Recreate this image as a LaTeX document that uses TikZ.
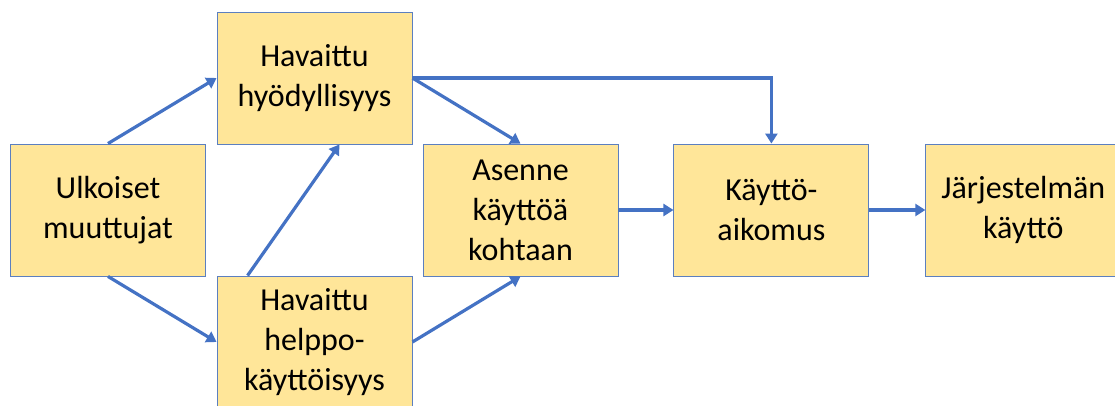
\documentclass[tikz,border=0pt]{standalone}
\usepackage{fontspec}
\setmainfont{Carlito}
\usetikzlibrary{arrows.meta, positioning}

\definecolor{boxfill}{HTML}{FFE699}
\definecolor{boxline}{HTML}{5B7FC0}
\definecolor{arrowblue}{HTML}{4472C4}

\begin{document}
\begin{tikzpicture}[
    x=1pt, y=-1pt,
    box/.style={rectangle, draw=boxline, line width=0.9pt, fill=boxfill, align=center,
        minimum width=195pt, minimum height=132pt, inner sep=0pt,
        font=\fontsize{32}{40}\selectfont},
    arrow/.style={-{Triangle[length=10pt, width=12pt]}, line width=3.2pt, draw=arrowblue}
]
\useasboundingbox (0,0) rectangle (1115,406);

% Nodes
\node[box] (ulk) at (108,210) {Ulkoiset\\muuttujat};
\node[box] (hyod) at (314.5,78) {Havaittu\\hyödyllisyys};
\node[box] (helppo) at (314.5,342) {Havaittu\\helppo-\\käyttöisyys};
\node[box] (asenne) at (520.5,210) {Asenne\\käyttöä\\kohtaan};
\node[box, right=55pt of asenne] (aikomus) {Käyttö-\\aikomus};
\node[box, right=56pt of aikomus] (kaytto) {Järjestelmän\\käyttö};

% Arrows
\draw[arrow] (ulk.north) -- (hyod.west);
\draw[arrow] (ulk.south) -- (helppo.west);
\draw[arrow] ([xshift=31pt]helppo.north west) -- ([xshift=25pt]hyod.south);
\draw[arrow] (hyod.east) -- (asenne.north);
\draw[arrow] (hyod.east) -| (aikomus.north);
\draw[arrow] (helppo.east) -- (asenne.south);
\draw[arrow] (asenne) -- (aikomus);
\draw[arrow] (aikomus) -- (kaytto);

\end{tikzpicture}
\end{document}
